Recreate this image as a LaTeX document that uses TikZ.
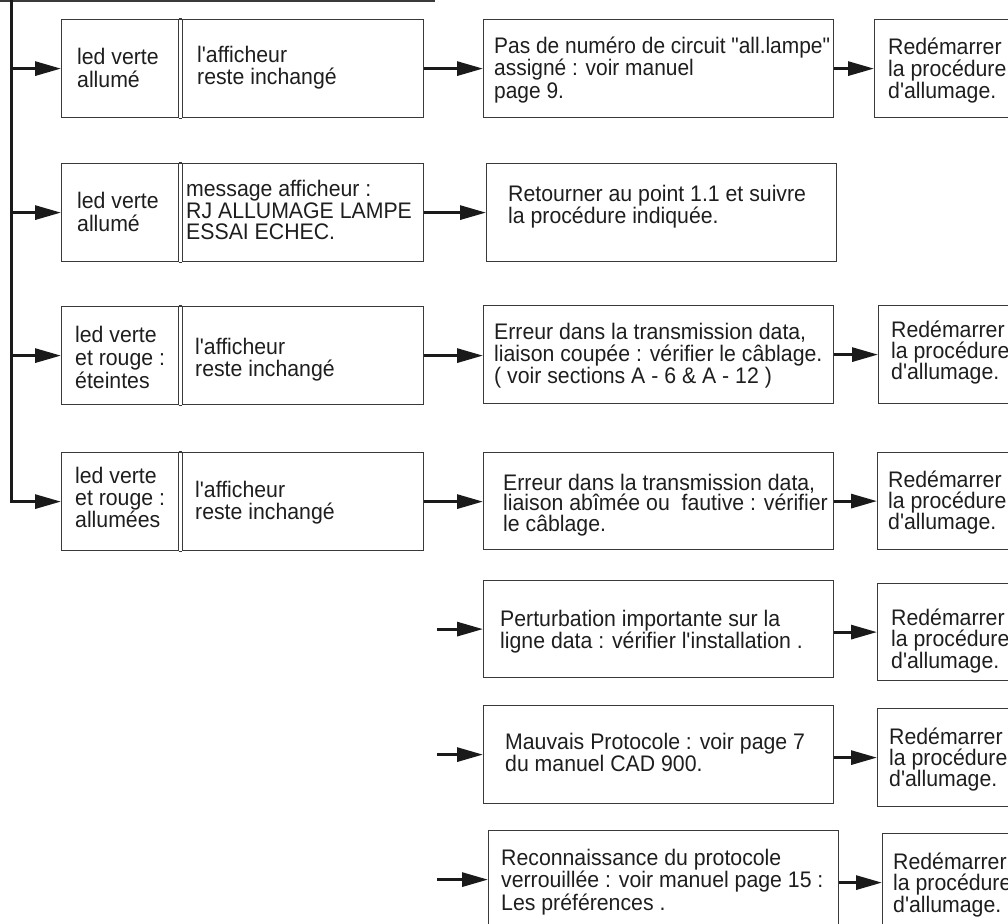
\documentclass[tikz,border=0pt]{standalone}
\usepackage{fontspec}
\newfontfamily\hv{Liberation Sans}[FakeStretch=0.945]
\newfontfamily\hvn{Liberation Sans}[FakeStretch=0.93]
\usetikzlibrary{arrows.meta}
\definecolor{boxgray}{HTML}{3A3A3A}
\definecolor{txtc}{HTML}{1E1E1E}
\definecolor{arrc}{HTML}{1A1A1A}
\newcommand\fs[1]{\hv\fontsize{22.5}{#1}\selectfont}
\newcommand\fsn[1]{\hvn\fontsize{22.5}{#1}\selectfont}
\begin{document}
\begin{tikzpicture}[x=1pt,y=-1pt,
  box/.style={draw=boxgray, line width=1.2pt, rectangle, anchor=north west, inner sep=0pt, minimum height=98pt},
  lbox/.style={box, minimum width=116.5pt},
  mbox/.style={box, minimum width=241.5pt},
  bbox/.style={box, minimum width=350pt},
  rbox/.style={box, minimum width=160pt},
  txt/.style={anchor=west, inner sep=0pt, align=left, text=txtc, font=\fs{22}},
  conn/.style={draw=arrc, line width=3pt, -{Triangle[length=26pt,width=14pt]}},
  rule/.style={draw=boxgray, line width=1.2pt}
]
\clip (0,0) rectangle (1008,923);
\useasboundingbox (0,0) rectangle (1008,923);

% ---- row 1
\node[lbox] (L1) at (61,19) {};
\node[mbox] (M1) at (181.5,19) {};
\node[bbox] (B1) at (483,19) {};
\node[rbox] (R1) at (874,19) {};
\node[txt, font=\fs{23}] (tL1) at (77,68) {led verte\\allumé};
\node[txt] (tM1) at (197,68) {l'afficheur\\reste inchangé};
\node[txt, font=\fsn{22.5}] (tB1) at (494,70) {Pas de numéro de circuit "all.lampe"\\assigné : voir manuel\\page 9.};
\node[txt, font=\fs{22}] (tR1) at (888,71) {Redémarrer\\la procédure\\d'allumage.};

% ---- row 2
\node[lbox] (L2) at (61,163) {};
\node[mbox] (M2) at (181.5,163) {};
\node[bbox] (B2) at (486,163) {};
\node[txt, font=\fs{23}] (tL2) at (77,212) {led verte\\allumé};
\node[txt, font=\fs{21.5}] (tM2) at (186,210) {message afficheur :\\RJ ALLUMAGE LAMPE\\ESSAI ECHEC.};
\node[txt, font=\fs{21}] (tB2) at (508,207) {Retourner au point 1.1 et suivre\\la procédure indiquée.};

% ---- row 3
\node[lbox] (L3) at (61,306) {};
\node[mbox] (M3) at (181.5,306) {};
\node[bbox] (B3) at (483,305) {};
\node[rbox] (R3) at (878,305) {};
\node[txt, font=\fs{23}] (tL3) at (75,357) {led verte\\et rouge :\\éteintes};
\node[txt] (tM3) at (195,360) {l'afficheur\\reste inchangé};
\node[txt] (tB3) at (494,356) {Erreur dans la transmission data,\\liaison coupée : vérifier le câblage.\\( voir sections A - 6 \& A - 12 )};
\node[txt, font=\fs{21}] (tR3) at (891,353) {Redémarrer\\la procédure\\d'allumage.};

% ---- row 4
\node[lbox] (L4) at (61,452) {};
\node[mbox] (M4) at (181.5,452) {};
\node[bbox, minimum height=97pt] (B4) at (483,452) {};
\node[rbox, minimum height=97pt] (R4) at (877,452) {};
\node[txt, font=\fs{22}] (tL4) at (75,497) {led verte\\et rouge :\\allumées};
\node[txt] (tM4) at (195,503) {l'afficheur\\reste inchangé};
\node[txt, font=\fs{20.5}] (tB4) at (503,505) {Erreur dans la transmission data,\\liaison abîmée ou \ fautive : vérifier\\le câblage.};
\node[txt, font=\fs{21}] (tR4) at (888,503) {Redémarrer\\la procédure\\d'allumage.};

% ---- row 5
\node[bbox, minimum height=97pt] (B5) at (483,580) {};
\node[rbox, minimum height=97pt] (R5) at (877,583) {};
\node[txt, font=\fs{21}] (tB5) at (500,632) {Perturbation importante sur la\\ligne data : vérifier l'installation .};
\node[txt, font=\fs{20.5}] (tR5) at (891,641) {Redémarrer\\la procédure\\d'allumage.};

% ---- row 6
\node[bbox] (B6) at (483,705) {};
\node[rbox] (R6) at (877,708) {};
\node[txt, font=\fs{20}] (tB6) at (505,752) {Mauvais Protocole : voir page 7\\du manuel CAD 900.};
\node[txt, font=\fs{21}] (tR6) at (889,760) {Redémarrer\\la procédure\\d'allumage.};

% ---- row 7
\node[bbox] (B7) at (488,830) {};
\node[rbox] (R7) at (882,833) {};
\node[txt, font=\fs{20}] (tB7) at (501,882) {Reconnaissance du protocole\\verrouillée : voir manuel page 15 :\\Les préférences .};
\node[txt, font=\fs{20.5}] (tR7) at (893,885) {Redémarrer\\la procédure\\d'allumage.};

% ---- joins of the double lines
\foreach \r in {1,2,3,4}{
  \draw[rule] (L\r.north east) -- (M\r.north west);
  \draw[rule] (L\r.south east) -- (M\r.south west);
}

% ---- top rule and trunk
\coordinate (tl) at (0,1);
\coordinate (tr) at (435,1);
\draw[rule] (tl) -- (tr);
\coordinate (top) at (11,-5);
\draw[conn] (top) |- (L4.west);
\draw[conn] (L1.west -| top) -- (L1.west);
\draw[conn] (L2.west -| top) -- (L2.west);
\draw[conn] (L3.west -| top) -- (L3.west);

% ---- horizontal connectors
\draw[conn] (M1.east) -- (M1.east -| B1.west);
\draw[conn] (M2.east) -- (M2.east -| B2.west);
\draw[conn] (M3.east) -- (M3.east -| B3.west);
\draw[conn] (M4.east) -- (M4.east -| B4.west);
\draw[conn] (B1.east) -- (B1.east -| R1.west);
\draw[conn] (R3.west -| B3.east) -- (R3.west);
\draw[conn] (B4.east) -- (B4.east -| R4.west);
\draw[conn] (R5.west -| B5.east) -- (R5.west);
\draw[conn] (R6.west -| B6.east) -- (R6.west);
\draw[conn] (R7.west -| B7.east) -- (R7.west);

% ---- free incoming arrows
\coordinate (in) at (437,0);
\draw[conn] (B5.west -| in) -- (B5.west);
\draw[conn] (B6.west -| in) -- (B6.west);
\draw[conn] (B7.west -| in) -- (B7.west);
\end{tikzpicture}
\end{document}
